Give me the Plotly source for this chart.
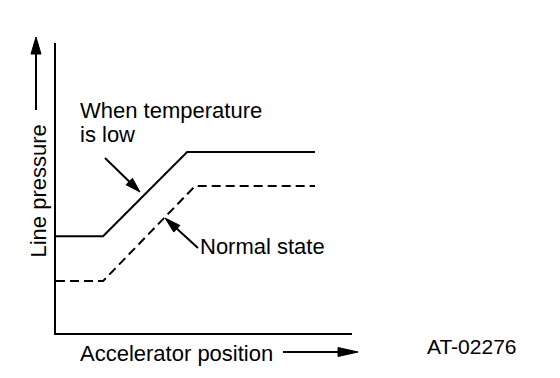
import math
import plotly.graph_objects as go

# ---- data (abstract units, 0..100 on both axes) ----
accel_low = [0, 15.9, 44.3, 87.5]
pressure_low = [33.4, 33.4, 62.4, 62.4]
accel_normal = [0, 15.9, 47.0, 87.5]
pressure_normal = [17.9, 17.9, 50.7, 50.7]

x_label = "Accelerator position"
y_label = "Line pressure"
label_low = ["When temperature", "is low"]
label_normal = "Normal state"
code_label = "AT-02276"

# page body has an 8px margin; figure is sized to fit inside the window
OFF = 8
W, H = 560 - 2 * OFF, 378 - 2 * OFF
PLOT_L, PLOT_T, PW, PH = 56, 43, 296, 290   # plot area in window pixels
L, T = PLOT_L - OFF, PLOT_T - OFF
R, B = W - L - PW, H - T - PH
FONT = "Liberation Sans, Arial, sans-serif"


def px(x):
    return (x - PLOT_L) / PW


def py(y):
    return (PLOT_T + PH - y) / PH


fig = go.Figure()
fig.add_trace(go.Scatter(x=accel_low, y=pressure_low, mode="lines",
                         line=dict(color="black", width=2), hoverinfo="skip"))
fig.add_trace(go.Scatter(x=accel_normal, y=pressure_normal, mode="lines",
                         line=dict(color="black", width=2, dash="9px,5px"), hoverinfo="skip"))

shapes = []


def arrow(x0, y0, x1, y1, head_len, head_w, width=2):
    dx, dy = x1 - x0, y1 - y0
    d = math.hypot(dx, dy)
    ux, uy = dx / d, dy / d
    bx, by = x1 - ux * head_len, y1 - uy * head_len
    nx, ny = -uy, ux
    shapes.append(dict(type="line", xref="paper", yref="paper",
                       x0=px(x0), y0=py(y0), x1=px(bx + ux), y1=py(by + uy),
                       line=dict(color="black", width=width)))
    p1 = (bx + nx * head_w / 2, by + ny * head_w / 2)
    p2 = (bx - nx * head_w / 2, by - ny * head_w / 2)
    path = "M{},{} L{},{} L{},{} Z".format(px(x1), py(y1), px(p1[0]), py(p1[1]),
                                           px(p2[0]), py(p2[1]))
    shapes.append(dict(type="path", xref="paper", yref="paper", path=path,
                       fillcolor="black", line=dict(color="black", width=1)))


arrow(36, 110, 36, 37, 17, 10)        # y-axis label arrow
arrow(283, 352, 358, 352, 20, 9)      # x-axis label arrow
arrow(105, 158, 140, 192, 15, 9)      # "When temperature is low"
arrow(198, 248, 165, 218, 16, 9)      # "Normal state"

ann = [
    dict(x=px(78), y=py(110), text=label_low[0], xanchor="left", yanchor="middle"),
    dict(x=px(78), y=py(135), text=label_low[1], xanchor="left", yanchor="middle"),
    dict(x=px(198), y=py(246), text=label_normal, xanchor="left", yanchor="middle"),
    dict(x=px(78), y=py(353), text=x_label, xanchor="left", yanchor="middle"),
    dict(x=px(38), y=py(191.5), text=y_label, xanchor="center", yanchor="middle", textangle=-90),
    dict(x=px(425), y=py(346), text=code_label, xanchor="left", yanchor="middle",
         font=dict(size=21, color="black", family=FONT)),
]
annotations = []
for a in ann:
    a.setdefault("font", dict(size=22, color="black", family=FONT))
    a.update(xref="paper", yref="paper", showarrow=False)
    annotations.append(a)

fig.update_layout(
    width=W, height=H,
    margin=dict(l=L, r=R, t=T, b=B),
    paper_bgcolor="white", plot_bgcolor="white",
    showlegend=False,
    shapes=shapes,
    annotations=annotations,
    xaxis=dict(range=[0, 100], showgrid=False, zeroline=False, showticklabels=False,
               ticks="", showline=True, linecolor="black", linewidth=2, fixedrange=True),
    yaxis=dict(range=[0, 100], showgrid=False, zeroline=False, showticklabels=False,
               ticks="", showline=True, linecolor="black", linewidth=2, fixedrange=True),
)

fig.write_html("out.html", config={"displayModeBar": False})
